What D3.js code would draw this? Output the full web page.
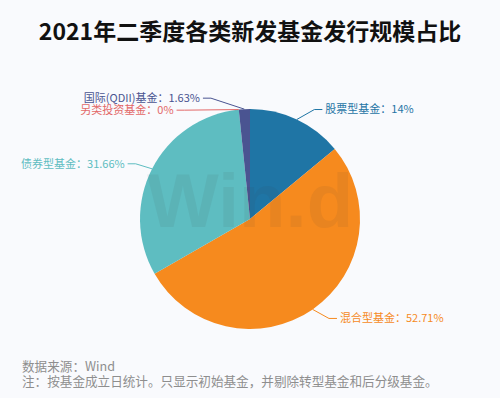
<!DOCTYPE html>
<html>
<head>
<meta charset="utf-8">
<script src="https://cdn.jsdelivr.net/npm/d3@7"></script>
<style>
  body { margin: 0; background: #f9fafd; }
  svg { display: block; font-family: "Noto Sans CJK SC", "Noto Sans", sans-serif; }
</style>
</head>
<body>
<div id="chart-area"></div>
<script>
// data
var categories = ["股票型基金", "混合型基金", "债券型基金", "另类投资基金", "国际(QDII)基金"];
var shares = [14, 52.71, 31.66, 0, 1.63];
var colors = ["#1f75a5", "#f68a1e", "#5ebdc1", "#e36868", "#4a5491"];

var width = 500, height = 398;
var cx = 250, cy = 219, radius = 110;

var svg = d3.select("#chart-area")
    .append("svg")
    .attr("width", width)
    .attr("height", height);

svg.append("rect")
    .attr("width", width)
    .attr("height", height)
    .attr("fill", "#f9fafd");

// title
svg.append("text")
    .attr("x", width / 2)
    .attr("y", 40)
    .attr("text-anchor", "middle")
    .attr("font-size", "23px")
    .attr("font-weight", "bold")
    .attr("fill", "#111")
    .text("2021年二季度各类新发基金发行规模占比");

var data = categories.map(function(c, i){
    return {name: c, value: shares[i], color: colors[i]};
});

var pie = d3.pie()
    .sort(null)
    .value(function(d){ return d.value; });

var arc = d3.arc()
    .innerRadius(0)
    .outerRadius(radius);

var g = svg.append("g")
    .attr("transform", "translate(" + cx + "," + cy + ")");

var arcs = pie(data);

g.selectAll("path")
    .data(arcs)
    .enter()
    .append("path")
    .attr("d", arc)
    .attr("fill", function(d){ return d.data.color; });

// watermark
g.append("text")
    .attr("x", 0)
    .attr("y", 8)
    .attr("text-anchor", "middle")
    .attr("font-family", "Liberation Sans, Arial, sans-serif")
    .attr("font-weight", "bold")
    .attr("font-size", "76px")
    .attr("fill", "#3a3a3a")
    .attr("opacity", 0.07)
    .text("Win.d");

// labels: natural position, then push apart on each side
var len1 = 11, ellipseR = 127, len2 = 8, gap = 3, minGap = 12;
var labels = arcs.map(function(d){
    var mid = (d.startAngle + d.endAngle) / 2;
    return {
        d: d,
        mid: mid,
        dir: Math.sin(mid) >= 0 ? 1 : -1,
        y: -(radius + len1) * Math.cos(mid)
    };
});

[1, -1].forEach(function(side){
    var items = labels.filter(function(l){ return l.dir == side; })
        .sort(function(a, b){ return a.y - b.y; });
    for (var i = 1; i < items.length; i++) {
        if (items[i].y < items[i - 1].y + minGap) items[i].y = items[i - 1].y + minGap;
    }
});

labels.forEach(function(l){
    var dy = Math.abs(l.y);
    var dx = Math.sqrt(Math.max(ellipseR * ellipseR - dy * dy, 0));
    var ex = radius * Math.sin(l.mid), ey = -radius * Math.cos(l.mid);
    var bx = l.dir * dx;
    var lx = bx + l.dir * len2;

    g.append("polyline")
        .attr("points", [[ex, ey], [bx, l.y], [lx, l.y]].map(function(p){ return p.join(","); }).join(" "))
        .attr("fill", "none")
        .attr("stroke", l.d.data.color)
        .attr("stroke-width", 1);

    g.append("text")
        .attr("x", lx + l.dir * gap)
        .attr("y", l.y)
        .attr("dy", "0.35em")
        .attr("text-anchor", l.dir > 0 ? "start" : "end")
        .attr("font-size", "11px")
        .attr("fill", l.d.data.color)
        .text(l.d.data.name + "：" + l.d.data.value + "%");
});

// footer
var notes = ["数据来源：Wind", "注：按基金成立日统计。只显示初始基金，并剔除转型基金和后分级基金。"];
svg.selectAll(".note")
    .data(notes)
    .enter()
    .append("text")
    .attr("class", "note")
    .attr("x", 22)
    .attr("y", function(d, i){ return 371 + i * 15; })
    .attr("font-size", "12.6px")
    .attr("fill", "#8e8e8e")
    .text(function(d){ return d; });
</script>
</body>
</html>
